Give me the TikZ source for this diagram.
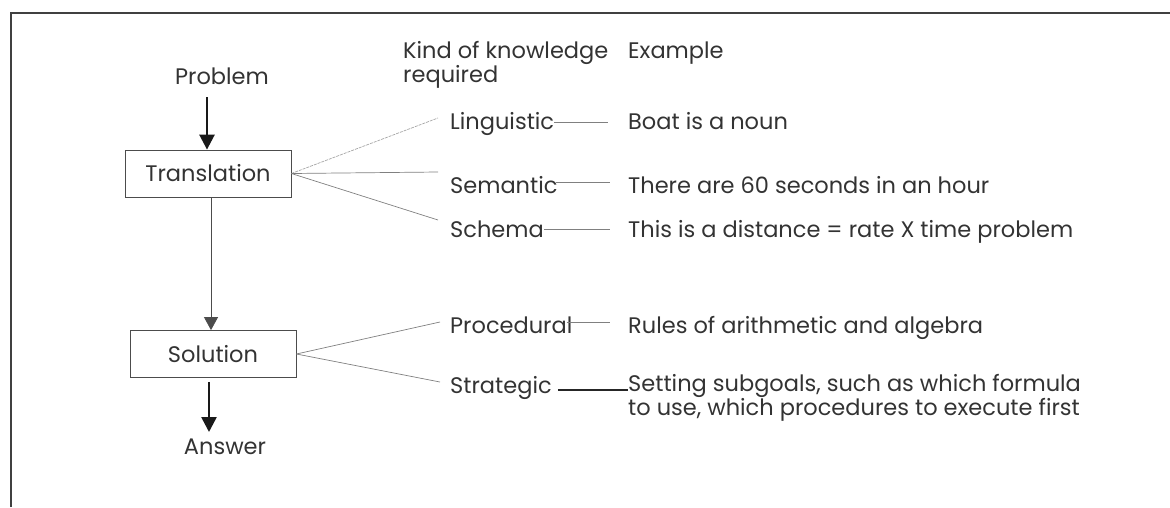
\documentclass[tikz,border=0pt]{standalone}
\usepackage{fontspec}
\setmainfont{Poppins}
\usetikzlibrary{positioning,arrows.meta}

\begin{document}
\begin{tikzpicture}[x=1pt,y=-1pt,
  txt/.style={font=\fontsize{22.5}{24}\selectfont, inner sep=0pt, text=black!80},
  stage/.style={draw=black!70, line width=0.8pt, minimum width=166pt,
    minimum height=47pt, inner sep=0pt, font=\fontsize{22.5}{24}\selectfont, text=black!80},
  link/.style={draw=black!50, line width=0.7pt},
  flow/.style={draw=black!90, line width=2.6pt, -{Triangle[width=15pt,length=15pt]}}]
  \useasboundingbox (0,0) rectangle (1170,507);
  % frame, cut at the right and bottom
  \draw[line width=1.5pt, black!75] (11,507) -- (11,13) -- (1170,13);

  % stages
  \node[txt, anchor=base] (problem) at (222,84) {Problem};
  \node[stage] (translation) at (208,173.5) {Translation};
  \node[stage] (solution) at (213,354) {Solution};
  \node[txt, anchor=base] (answer) at (225,454) {Answer};

  % headers
  \node[txt, anchor=base west, align=left] (kind) at (403,82) {Kind of knowledge\\required};
  \node[txt, anchor=base west] (example) at (628,58) {Example};

  % kinds of knowledge
  \node[txt, anchor=base west] (ling) at (450,129) {Linguistic};
  \node[txt, anchor=base west] (sem) at (450,193) {Semantic};
  \node[txt, anchor=base west] (schema) at (450,237) {Schema};
  \node[txt, anchor=base west] (proc) at (450,333) {Procedural};
  \node[txt, anchor=base west] (strat) at (450,393) {Strategic};

  % examples
  \node[txt, anchor=base west] (boat) at (628,129) {Boat is a noun};
  \node[txt, anchor=base west] (sixty) at (628,193) {There are 60 seconds in an hour};
  \node[txt, anchor=base west] (dist) at (628,237) {This is a distance = rate X time problem};
  \node[txt, anchor=base west] (rules) at (628,333) {Rules of arithmetic and algebra};
  \node[txt, anchor=base west, align=left] (goals) at (628,415)
    {Setting subgoals, such as which formula\\to use, which procedures to execute first};

  % where the fan lines end
  \coordinate (ling-in) at (438,118);
  \coordinate (sem-in) at (438,172);
  \coordinate (schema-in) at (438,220);
  \coordinate (proc-in) at (440,322);
  \coordinate (strat-in) at (440,382);

  % main flow
  \draw[flow] (207,97) -- (translation.north -| 207,0);
  \draw[draw=black!70, line width=0.8pt, -{Triangle[width=14pt,length=13pt]}]
    (translation.south -| 211,0) -- (solution.north -| 211,0);
  \draw[flow] (solution.south -| 209,0) ++(0,4) -- (209,432);

  % fans
  \draw[link, black!35, dashed, dash pattern=on 3pt off 1pt] (translation.east) -- (ling-in);
  \draw[link] (translation.east) -- (sem-in);
  \draw[link] (translation.east) -- (schema-in);
  \draw[link] (solution.east) -- (proc-in);
  \draw[link] (solution.east) -- (strat-in);

  % kind to example
  \draw[link] ([yshift=7pt]ling.base east) -- ([xshift=-20pt,yshift=7pt]boat.base west);
  \draw[link] ([xshift=-2pt,yshift=11pt]sem.base east) -- ([xshift=-18pt,yshift=11pt]sixty.base west);
  \draw[link] ([yshift=8pt]schema.base east) -- ([xshift=-18pt,yshift=8pt]dist.base west);
  \draw[link] ([xshift=-6pt,yshift=11pt]proc.base east) -- ([xshift=-18pt,yshift=11pt]rules.base west);
  \draw[line width=1.3pt, black!85] ([xshift=6pt,yshift=3pt]strat.base east) -- ([yshift=3pt]strat.base east -| goals.west);
\end{tikzpicture}
\end{document}
